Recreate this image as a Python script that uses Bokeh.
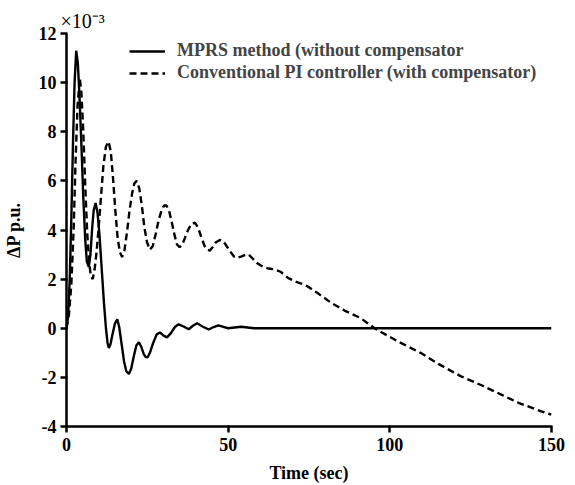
from bokeh.plotting import figure
from bokeh.models import Range1d, FixedTicker, Legend, LegendItem
from bokeh.embed import file_html
from bokeh.resources import INLINE

# ---- data (values in units of 1e-3 p.u.) ----
mprs_t = [0, 0.5, 1.0, 1.5, 2.0, 2.5, 3.0, 3.5, 4.0, 4.6, 5.2, 5.8, 6.3, 6.9,
          7.4, 7.9, 8.4, 9.0, 9.6, 10.2, 11.0, 11.6, 12.2, 12.7, 13.1, 13.6,
          14.3, 15.0, 15.7, 16.3, 17.0, 17.8, 18.5, 19.3, 20.0, 20.8, 21.6,
          22.4, 23.1, 23.9, 24.5, 25.1, 25.8, 26.8, 27.9, 28.9, 30.0, 31.1,
          32.3, 33.5, 34.7, 36.2, 37.8, 39.1, 40.4, 42.2, 44.0, 45.5, 47.0,
          48.5, 50.0, 52.0, 54.0, 56.0, 58.0, 60.0, 150.0]
mprs_v = [0, 0.5, 2.0, 4.5, 7.5, 10.0, 11.3, 10.8, 9.5, 7.5, 5.3, 3.6, 2.7, 2.5,
          3.0, 4.0, 4.8, 5.1, 4.7, 3.8, 2.2, 1.0, 0.0, -0.6, -0.8, -0.65,
          -0.2, 0.2, 0.36, 0.05, -0.6, -1.35, -1.75, -1.86, -1.65, -1.15, -0.7,
          -0.57, -0.75, -1.05, -1.17, -1.18, -1.0, -0.6, -0.25, -0.17, -0.3, -0.37,
          -0.2, 0.05, 0.16, 0.07, -0.04, 0.1, 0.2, 0.06, -0.05, 0.05, 0.12,
          0.06, 0.0, 0.03, 0.06, 0.03, 0.0, 0.0, 0.0]

pi_t = [0, 0.8, 1.5, 2.2, 2.8, 3.4, 4.1, 4.6, 5.2, 5.8, 6.4, 7.0, 7.5, 8.1,
        8.7, 9.3, 10.0, 10.7, 11.4, 12.2, 13.0, 13.7, 14.4, 15.1, 15.8, 16.5,
        17.2, 17.9, 18.7, 19.5, 20.3, 21.0, 21.7, 22.5, 23.3, 24.1, 24.9, 25.8,
        26.7, 27.6, 28.5, 29.4, 30.2, 30.9, 31.7, 32.5, 33.4, 34.2, 35.0, 35.8,
        36.7, 37.6, 38.6, 39.7, 40.7, 41.7, 42.7, 43.5, 44.3, 45.2, 46.2, 47.6,
        49.0, 50.5, 51.8, 52.8, 54.2, 55.5, 56.3, 57.5, 59.0, 60.8, 62.5, 64.3,
        66.2, 68.5, 70.8, 72.6, 74.4, 78.0, 81.7, 86.0, 90.9, 95.3, 97.1,
        103.0, 109.5, 115.0, 121.9, 128.0, 134.3, 140.0, 146.6, 150.0]
pi_v = [0, 0.6, 1.8, 4.0, 6.8, 9.0, 10.2, 9.6, 8.0, 5.8, 3.9, 2.7, 2.15, 2.0,
        2.4, 3.1, 4.2, 5.4, 6.6, 7.4, 7.6, 7.2, 6.1, 4.8, 3.7, 3.1,
        2.9, 3.15, 3.9, 4.8, 5.5, 5.9, 6.0, 5.7, 5.0, 4.1, 3.5, 3.2,
        3.35, 3.85, 4.4, 4.8, 5.0, 5.0, 4.8, 4.35, 3.8, 3.4, 3.3, 3.4,
        3.7, 4.0, 4.25, 4.3, 4.1, 3.7, 3.35, 3.2, 3.16, 3.3, 3.5, 3.6,
        3.45, 3.15, 2.92, 2.87, 2.93, 3.0, 3.0, 2.85, 2.65, 2.5, 2.43, 2.4,
        2.3, 2.05, 1.9, 1.82, 1.72, 1.4, 1.05, 0.72, 0.42, 0.0, -0.14,
        -0.57, -1.0, -1.45, -1.95, -2.3, -2.69, -3.05, -3.37, -3.52]

x_ticks = [0, 50, 100, 150]
y_ticks = [-4, -2, 0, 2, 4, 6, 8, 10, 12]
y_tick_labels = ["-4", "-2", "0", "2", "4", "6", "8", "10", "12"]
series_names = ["MPRS method (without compensator",
                "Conventional PI controller (with compensator)"]
scale_text = "×10⁻³"

FONT = "Liberation Serif"

p = figure(width=575, height=485, output_backend="svg", toolbar_location=None,
           x_range=Range1d(0, 150), y_range=Range1d(-4, 12),
           min_border_left=66, min_border_right=24, min_border_top=33,
           min_border_bottom=57, title=scale_text)
p.title.align = "left"
p.title.offset = -6
p.title.standoff = 4
p.title.text_font = FONT
p.title.text_font_size = "20px"
p.title.text_font_style = "normal"
p.title.text_color = "black"

p.outline_line_color = None
p.xgrid.visible = False
p.ygrid.visible = False
p.background_fill_color = "white"
p.border_fill_color = "white"

r1 = p.line(mprs_t, mprs_v, line_color="black", line_width=2.4)
r2 = p.line(pi_t, pi_v, line_color="black", line_width=2.4, line_dash="7 4")

for ax in (p.xaxis[0], p.yaxis[0]):
    ax.axis_line_width = 2.5
    ax.major_tick_line_width = 2.5
    ax.major_tick_out = 6
    ax.major_tick_in = 1
    ax.minor_tick_line_color = None
    ax.major_label_text_font = FONT
    ax.major_label_text_font_size = "18px"
    ax.major_label_text_font_style = "bold"
    ax.axis_label_text_font = FONT
    ax.axis_label_text_font_size = "18px"
    ax.axis_label_text_font_style = "bold"
    ax.major_label_text_color = "black"
    ax.axis_label_text_color = "black"

p.xaxis[0].ticker = FixedTicker(ticks=x_ticks)
p.yaxis[0].ticker = FixedTicker(ticks=y_ticks)
p.yaxis[0].major_label_overrides = {t: s for t, s in zip(y_ticks, y_tick_labels)}
p.xaxis[0].axis_label = "Time (sec)"
p.yaxis[0].axis_label = "ΔP p.u."
p.xaxis[0].major_label_standoff = 5
p.xaxis[0].axis_label_standoff = 9
p.yaxis[0].major_label_standoff = 4
p.yaxis[0].axis_label_standoff = 12

legend = Legend(items=[LegendItem(label=series_names[0], renderers=[r1]),
                       LegendItem(label=series_names[1], renderers=[r2])],
                location=(63, 343), orientation="vertical",
                border_line_color=None, background_fill_alpha=0,
                glyph_width=36, glyph_height=20, label_height=20,
                label_standoff=12, spacing=1, padding=0, margin=0,
                label_text_font=FONT, label_text_font_size="18px",
                label_text_font_style="bold")
p.add_layout(legend)

open("out.html", "w").write(file_html(p, INLINE))
